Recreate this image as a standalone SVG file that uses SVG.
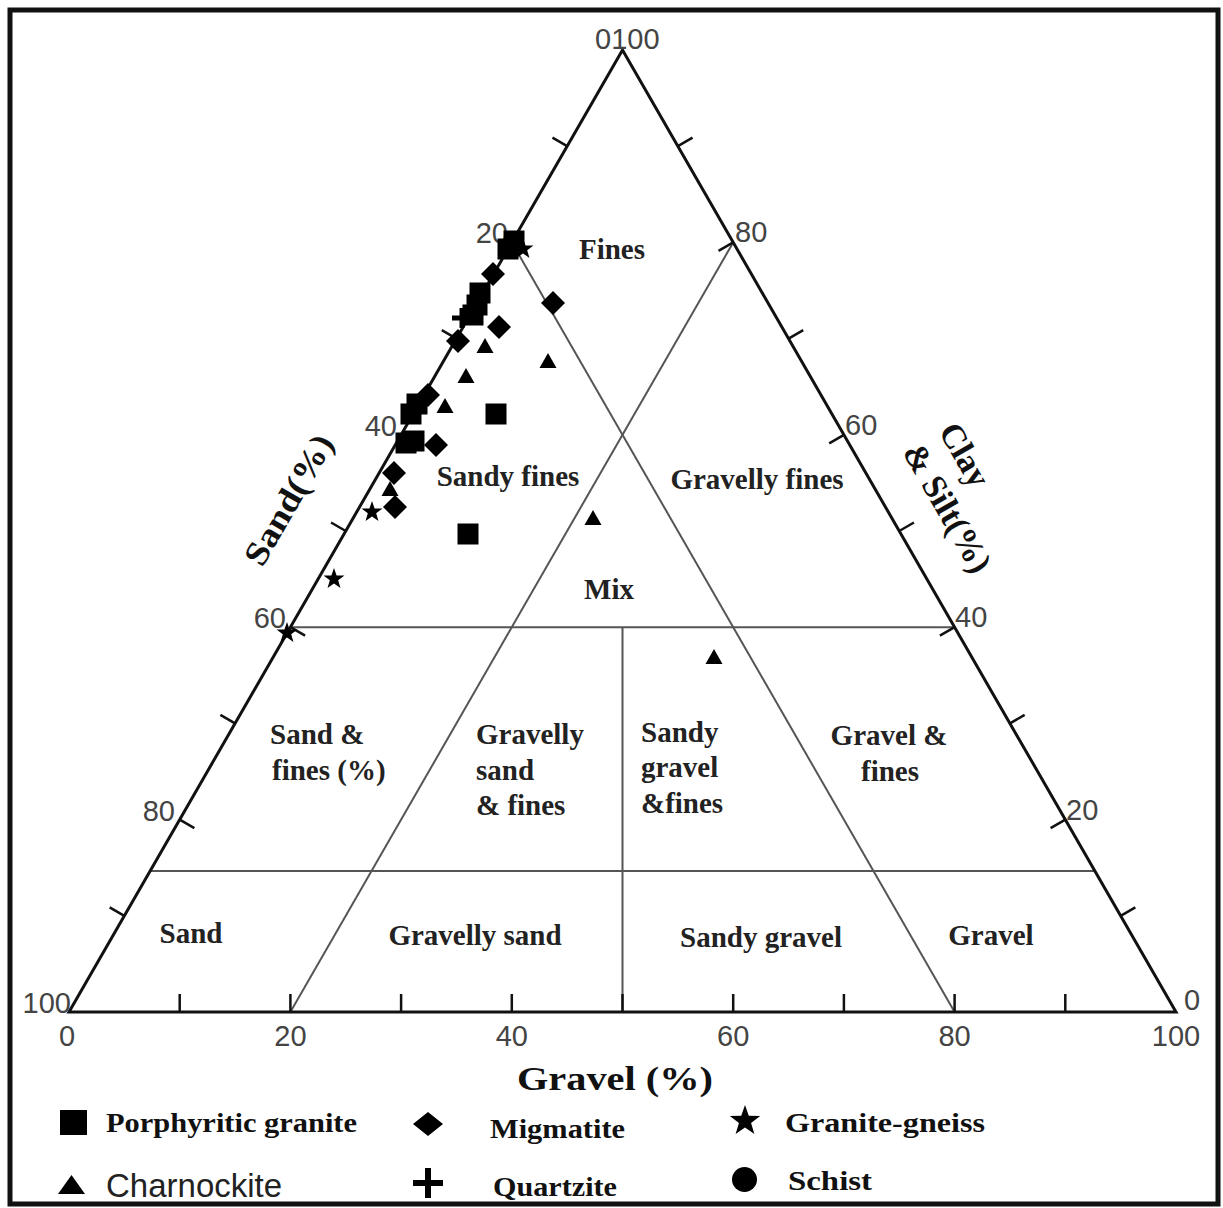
<svg xmlns="http://www.w3.org/2000/svg" xmlns:xlink="http://www.w3.org/1999/xlink" width="1223" height="1208" viewBox="0 0 1223 1208">
<style>
.edge{stroke:#111;stroke-width:3;fill:none;stroke-linejoin:miter}
.div{stroke:#555;stroke-width:2;fill:none}
.tick{stroke:#111;stroke-width:2.5;fill:none}
.num{font-family:"Liberation Sans",Arial,sans-serif;font-size:29px;fill:#444}
.reg{font-family:"Liberation Serif","Times New Roman",serif;font-weight:bold;font-size:29px;fill:#222}
.ax{font-family:"Liberation Serif","Times New Roman",serif;font-weight:bold;font-size:34px;fill:#111}
.leg{font-family:"Liberation Serif","Times New Roman",serif;font-weight:bold;font-size:28px;fill:#111}
.legs{font-family:"Liberation Sans",Arial,sans-serif;font-size:33px;fill:#222}
.mk{fill:#000}
</style>
<defs>
<rect id="sq" x="-10.5" y="-10.5" width="21" height="21"/>
<polygon id="dm" points="0,-12 12,0 0,12 -12,0"/>
<polygon id="tr" points="0,-8 8.5,7 -8.5,7"/>
<polygon id="st" points="0,-11 2.59,-3.56 10.46,-3.4 4.18,1.36 6.47,8.9 0,4.4 -6.47,8.9 -4.18,1.36 -10.46,-3.4 -2.59,-3.56"/>
<path id="pl" d="M-10,0H10M0,-10V10" stroke="#000" stroke-width="5"/>
</defs>
<rect x="0" y="0" width="1223" height="1208" fill="#fff"/>
<rect id="frame" x="10" y="10" width="1208" height="1194" fill="none" stroke="#111" stroke-width="5"/>

<g id="connectors">
<line class="div" x1="290.4" y1="627.2" x2="954.6" y2="627.2"/>
<line class="div" x1="150.1" y1="871" x2="1094.9" y2="871"/>
<line class="div" x1="622.5" y1="627.2" x2="622.5" y2="1012"/>
<line class="div" x1="290.4" y1="1012" x2="733.2" y2="242.4"/>
<line class="div" x1="954.6" y1="1012" x2="511.8" y2="242.4"/>
</g>

<g id="triangle">
<polygon class="edge" points="69,1012 622.5,50 1176,1012"/>
<g id="ticks-bottom">
<path class="tick" d="M179.7,1012V994M290.4,1012V994M401.1,1012V994M511.8,1012V994M622.5,1012V994M733.2,1012V994M843.9,1012V994M954.6,1012V994M1065.3,1012V994"/>
</g>
<g id="ticks-left">
<path class="tick" d="M124.35,915.8L109.65,907.3M179.7,819.6L194.4,828.1M235.05,723.4L220.35,714.9M290.4,627.2L305.1,635.7M345.75,531L331.05,522.5M401.1,434.8L415.8,443.3M456.45,338.6L441.75,330.1M511.8,242.4L526.5,250.9M567.15,146.2L552.45,137.7"/>
</g>
<g id="ticks-right">
<path class="tick" d="M1120.65,915.8L1135.35,907.3M1065.3,819.6L1050.6,828.1M1009.95,723.4L1024.65,714.9M954.6,627.2L939.9,635.7M899.25,531L913.95,522.5M843.9,434.8L829.2,443.3M788.55,338.6L803.25,330.1M733.2,242.4L718.5,250.9M677.85,146.2L692.55,137.7"/>
</g>
</g>

<g id="axis-numbers">
<text class="num" x="595" y="49">0100</text>
<text class="num" x="508" y="243" text-anchor="end">20</text>
<text class="num" x="397" y="436" text-anchor="end">40</text>
<text class="num" x="286" y="628" text-anchor="end">60</text>
<text class="num" x="175" y="821" text-anchor="end">80</text>
<text class="num" x="71" y="1013" text-anchor="end">100</text>
<text class="num" x="735" y="242">80</text>
<text class="num" x="845" y="435">60</text>
<text class="num" x="955" y="627">40</text>
<text class="num" x="1066" y="820">20</text>
<text class="num" x="1184" y="1010">0</text>
<text class="num" x="67" y="1046" text-anchor="middle">0</text>
<text class="num" x="290.4" y="1046" text-anchor="middle">20</text>
<text class="num" x="511.8" y="1046" text-anchor="middle">40</text>
<text class="num" x="733.2" y="1046" text-anchor="middle">60</text>
<text class="num" x="954.6" y="1046" text-anchor="middle">80</text>
<text class="num" x="1176" y="1046" text-anchor="middle">100</text>
</g>

<g id="axis-titles">
<text class="ax" transform="translate(289,500) rotate(-60)" x="0" y="11" text-anchor="middle" textLength="145" lengthAdjust="spacingAndGlyphs">Sand(%)</text>
<text class="ax" transform="translate(938,431) rotate(60)" x="0" y="0" font-size="32">Clay</text>
<text class="ax" transform="translate(902,452) rotate(60)" x="0" y="0" font-size="32">&amp; Silt(%)</text>
<text class="ax" x="517" y="1090" font-size="36" textLength="196" lengthAdjust="spacingAndGlyphs">Gravel (%)</text>
</g>

<g id="regions">
<g id="r-fines"><text class="reg" x="612" y="259" text-anchor="middle">Fines</text></g>
<g id="r-sandy-fines"><text class="reg" x="508" y="486" text-anchor="middle">Sandy fines</text></g>
<g id="r-gravelly-fines"><text class="reg" x="757" y="489" text-anchor="middle">Gravelly fines</text></g>
<g id="r-mix"><text class="reg" x="609" y="599" text-anchor="middle">Mix</text></g>
<g id="r-sand-fines"><text class="reg" x="270" y="744">Sand &amp;</text><text class="reg" x="272" y="780">fines (%)</text></g>
<g id="r-gravelly-sand-fines"><text class="reg" x="476" y="744">Gravelly</text><text class="reg" x="476" y="780">sand</text><text class="reg" x="476" y="815">&amp; fines</text></g>
<g id="r-sandy-gravel-fines"><text class="reg" x="641" y="742">Sandy</text><text class="reg" x="641" y="777">gravel</text><text class="reg" x="641" y="813">&amp;fines</text></g>
<g id="r-gravel-fines"><text class="reg" x="889" y="745" text-anchor="middle">Gravel &amp;</text><text class="reg" x="890" y="781" text-anchor="middle">fines</text></g>
<g id="r-sand"><text class="reg" x="191" y="943" text-anchor="middle">Sand</text></g>
<g id="r-gravelly-sand"><text class="reg" x="475" y="945" text-anchor="middle">Gravelly sand</text></g>
<g id="r-sandy-gravel"><text class="reg" x="761" y="947" text-anchor="middle">Sandy gravel</text></g>
<g id="r-gravel"><text class="reg" x="991" y="945" text-anchor="middle">Gravel</text></g>
</g>

<g id="data" class="mk">
<use href="#sq" x="508" y="249"/>
<use href="#sq" x="514" y="241"/>
<use href="#sq" x="480" y="293"/>
<use href="#sq" x="477" y="305"/>
<use href="#sq" x="473" y="315"/>
<use href="#sq" x="496" y="414"/>
<use href="#sq" x="468" y="534"/>
<use href="#sq" x="417" y="404"/>
<use href="#sq" x="411" y="414"/>
<use href="#sq" x="406" y="443"/>
<use href="#sq" x="414" y="441"/>
<use href="#dm" x="493" y="274"/>
<use href="#dm" x="553" y="303"/>
<use href="#dm" x="499" y="327"/>
<use href="#dm" x="458" y="341"/>
<use href="#dm" x="428" y="395"/>
<use href="#dm" x="436" y="445"/>
<use href="#dm" x="394" y="473"/>
<use href="#dm" x="395" y="507"/>
<use href="#tr" x="485" y="346"/>
<use href="#tr" x="466" y="376"/>
<use href="#tr" x="548" y="361"/>
<use href="#tr" x="445" y="406"/>
<use href="#tr" x="593" y="518"/>
<use href="#tr" x="714" y="657"/>
<use href="#tr" x="390" y="489"/>
<use href="#st" x="523" y="249"/>
<use href="#st" x="372" y="512"/>
<use href="#st" x="334" y="579"/>
<use href="#st" x="287" y="633"/>
<use href="#pl" x="462" y="318"/>
</g>

<g id="legend">
<g id="leg-porphyritic"><rect x="60" y="1110" width="27" height="25" fill="#000"/><text class="leg" x="106" y="1132" font-size="26" textLength="251" lengthAdjust="spacingAndGlyphs">Porphyritic granite</text></g>
<g id="leg-migmatite"><polygon points="428,1112 443,1124 428,1136 413,1124" fill="#000"/><text class="leg" x="490" y="1138" font-size="29" textLength="135" lengthAdjust="spacingAndGlyphs">Migmatite</text></g>
<g id="leg-granite-gneiss"><use href="#st" transform="translate(745,1121) scale(1.45)"/><text class="leg" x="785" y="1132" textLength="200" lengthAdjust="spacingAndGlyphs">Granite-gneiss</text></g>
<g id="leg-charnockite"><polygon points="71.5,1175 85,1194 58,1194" fill="#000"/><text class="legs" x="106" y="1197">Charnockite</text></g>
<g id="leg-quartzite"><path d="M413,1183H443M428,1168V1198" stroke="#000" stroke-width="6"/><text class="leg" x="493" y="1196" font-size="29" textLength="124" lengthAdjust="spacingAndGlyphs">Quartzite</text></g>
<g id="leg-schist"><circle cx="744.5" cy="1179.5" r="12.5" fill="#000"/><text class="leg" x="788" y="1190" font-size="30" textLength="84" lengthAdjust="spacingAndGlyphs">Schist</text></g>
</g>
</svg>
